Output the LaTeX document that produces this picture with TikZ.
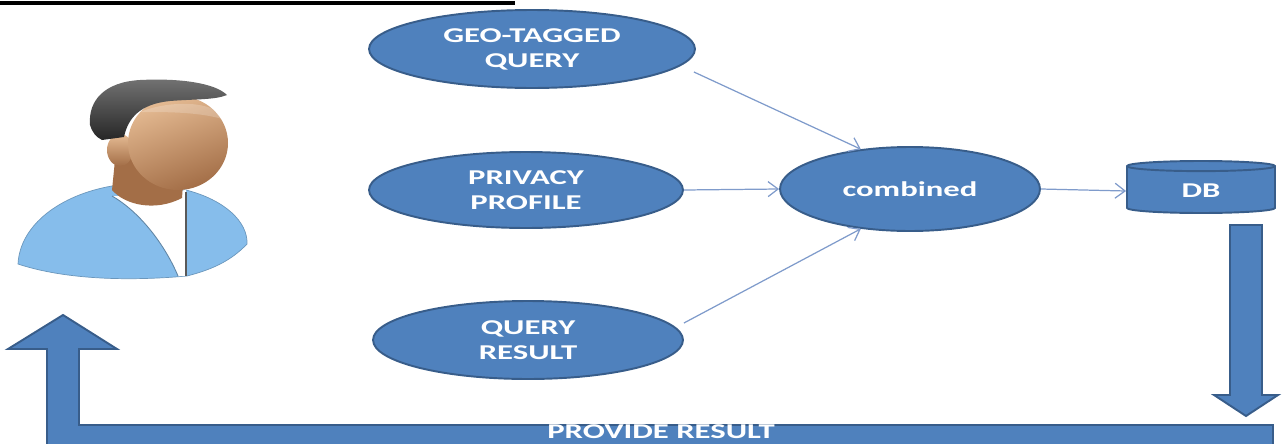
\documentclass[tikz,border=0pt]{standalone}
\usepackage{fontspec}
\setmainfont{Carlito}
\newfontfamily\labelfont[FakeStretch=1.55]{Carlito}
\usepackage{tikz}
\usetikzlibrary{arrows.meta,shapes.geometric}
\definecolor{boxblue}{HTML}{4F81BD}
\definecolor{boxedge}{HTML}{385D8A}
\definecolor{linkblue}{HTML}{7F9BCB}
\definecolor{skinlight}{HTML}{E6BC94}
\definecolor{skindark}{HTML}{A36E47}
\definecolor{shirtside}{HTML}{86BDEB}
\definecolor{shirtmid}{HTML}{C6E3F8}

\begin{document}
\begin{tikzpicture}[x=0.02cm,y=-0.02cm,
 lbl/.style={text=white,font=\labelfont\bfseries\fontsize{12}{14.2}\selectfont},
 oval/.style={ellipse,draw=boxedge,fill=boxblue,line width=1.1pt,inner sep=0pt,align=center,lbl},
 store/.style={cylinder,shape border rotate=90,aspect=0.2,draw=boxedge,fill=boxblue,line width=1.1pt,lbl},
 arr/.style={-{Straight Barb[length=2mm,width=3mm]},linkblue,line width=0.7pt},
 block/.style={draw=boxedge,fill=boxblue,line width=1.1pt,line join=miter}]
 \useasboundingbox (0,0) rectangle (1284,443);
 % rule over the title area
 \draw[line width=0.08cm] (0,2.5) -- (515,2.5);

 % user figure: shirt, undershirt, neck, ear, face, hair
 \shade[left color=shirtside,middle color=shirtmid,right color=shirtside,draw=shirtside!80!black,line width=0.4pt] (18,264) .. controls (20,225) and (60,195) .. (112,186) -- (186,190) .. controls (225,200) and (248,222) .. (247,244) .. controls (230,262) and (210,270) .. (187,276) .. controls (120,282) and (60,278) .. (18,264) -- cycle;
 \fill[white] (112,196) .. controls (140,197) and (170,192) .. (186,190) -- (186,276) -- (178,276) .. controls (165,245) and (140,212) .. (112,196) -- cycle;
 \draw[gray!70!black,line width=0.8pt] (186,192) -- (186,276);
 \draw[shirtside!70!black,line width=0.5pt] (112,196) .. controls (140,212) and (165,245) .. (178,276);
 \fill[skindark] (116,150) -- (112,190) .. controls (125,205) and (155,212) .. (182,198) -- (184,170) -- cycle;
 \shade[top color=skinlight,bottom color=skindark] (120,150) ellipse (13 and 16);
 \shade[top color=skinlight,bottom color=skindark,shading angle=20] (178,143) ellipse (50 and 47);
 \fill[white,opacity=0.2] (140,112) .. controls (170,100) and (215,100) .. (226,120) .. controls (200,112) and (170,112) .. (140,112) -- cycle;
 \shade[top color=black!55,bottom color=black!85] (227,95) .. controls (215,83) and (180,78) .. (140,80) .. controls (105,82) and (88,100) .. (90,125) .. controls (92,132) and (96,137) .. (102,140) -- (124,137) .. controls (128,118) and (140,104) .. (170,101) .. controls (195,99) and (215,100) .. (227,95) -- cycle;

 % inputs, merge node and store
 \node[oval,minimum width=6.52cm,minimum height=1.56cm] (geo) at (532,49) {GEO-TAGGED\\QUERY};
 \node[oval,minimum width=6.28cm,minimum height=1.52cm] (priv) at (526,190) {PRIVACY\\PROFILE};
 \node[oval,minimum width=6.2cm,minimum height=1.56cm] (qres) at (528,340) {QUERY\\RESULT};
 \node[oval,minimum width=5.2cm,minimum height=1.68cm] (comb) at (910,189) {combined};
 \node[store,minimum width=2.96cm,minimum height=1.04cm] (db) at (1201,191) {DB};

 \draw[arr] ([xshift=-0.04cm,yshift=-0.46cm]geo.east) -- (comb.141); \draw[arr] (priv.east) -- (comb.west);
 \draw[arr] ([yshift=0.34cm]qres.east) -- (comb.219); \draw[arr] (comb.east) -- (db.west);

 % result goes back down and round to the user
 \draw[block] (1230,225) -- (1262,225) -- (1262,395) -- (1278,395) -- (1246,416) -- (1214,395) -- (1230,395) -- cycle;
 \draw[block] (47,450) -- (47,349) -- (8,349) -- (63,315) -- (117,349) -- (79,349) -- (79,425) -- (1273,425) -- (1273,450) -- cycle;
 \node[lbl,inner sep=0pt] (prov) at (661,432) {PROVIDE RESULT};
\end{tikzpicture}
\end{document}
